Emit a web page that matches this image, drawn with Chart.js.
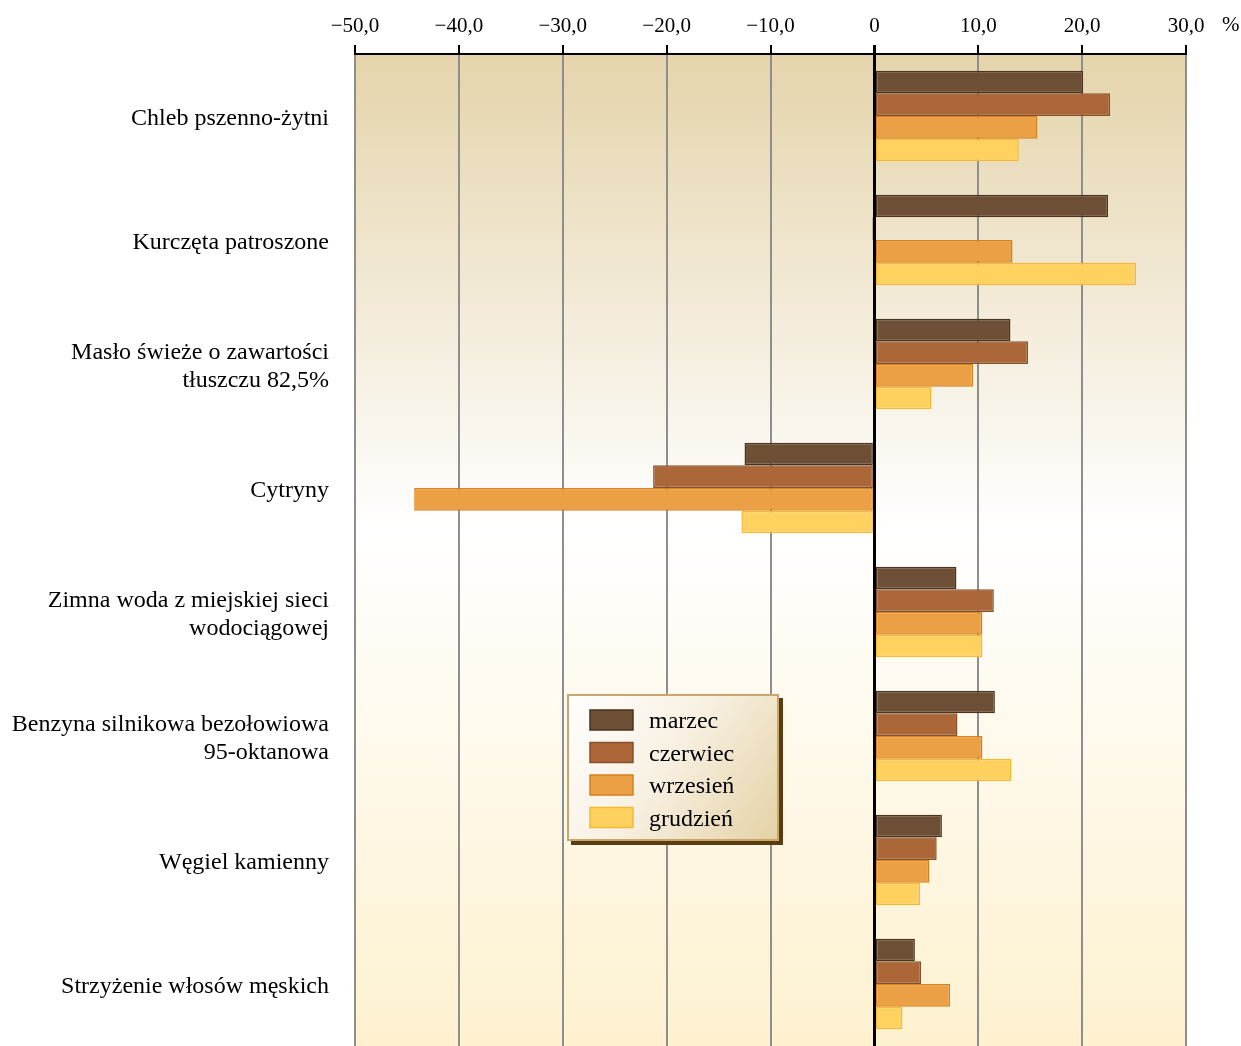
<!DOCTYPE html>
<html>
<head>
<meta charset="utf-8">
<script src="https://cdn.jsdelivr.net/npm/chart.js@4"></script>
<style>
  html, body { margin: 0; padding: 0; background: #ffffff; overflow: hidden; }
</style>
</head>
<body>
<canvas id="chart" width="1241" height="1046"></canvas>
<script>
// Categories (multi-line labels as arrays)
var categories = [
    "Chleb pszenno-żytni",
    "Kurczęta patroszone",
    ["Masło świeże o zawartości", "tłuszczu 82,5%"],
    "Cytryny",
    ["Zimna woda z miejskiej sieci", "wodociągowej"],
    ["Benzyna silnikowa bezołowiowa", "95-oktanowa"],
    "Węgiel kamienny",
    "Strzyżenie włosów męskich"
];

// Series values (%)
var marzec    = [20.1, 22.5, 13.1, -12.5,  7.9, 11.6, 6.5, 3.9];
var czerwiec  = [22.7, -0.2, 14.8, -21.3, 11.5,  8.0, 6.0, 4.5];
var wrzesien  = [15.7, 13.3,  9.5, -44.3, 10.4, 10.4, 5.3, 7.3];
var grudzien  = [13.9, 25.2,  5.5, -12.8, 10.4, 13.2, 4.4, 2.7];

var seriesNames = ["marzec", "czerwiec", "wrzesień", "grudzień"];

// Axis range
var xMin = -50, xMax = 30, xStep = 10;

var FONT = "'Liberation Serif', 'DejaVu Serif', serif";

// Background gradient inside the plot area
var backgroundPlugin = {
    id: "plotBackground",
    beforeDraw: function (chart) {
        var ctx = chart.ctx, a = chart.chartArea;
        var g = ctx.createLinearGradient(0, a.top, 0, a.bottom);
        g.addColorStop(0, "#e5d4ab");
        g.addColorStop(0.48, "#ffffff");
        g.addColorStop(1, "#fdf1cf");
        ctx.save();
        ctx.fillStyle = g;
        ctx.fillRect(a.left, a.top, a.right - a.left, a.bottom - a.top);
        ctx.restore();
    },
    afterDraw: function (chart) {
        // "%" unit next to top ticks
        var ctx = chart.ctx, a = chart.chartArea;
        ctx.save();
        ctx.font = "21px " + FONT;
        ctx.fillStyle = "#000";
        ctx.textAlign = "left";
        ctx.textBaseline = "middle";
        ctx.fillText("%", a.right + 36, 25);
        ctx.restore();
    }
};

// Legend box with gradient and shadow
var legendBoxPlugin = {
    id: "legendBox",
    afterDraw: function (chart) {
        var ctx = chart.ctx;
        var x = 567, y = 694, w = 212, h = 147;
        ctx.save();
        // shadow
        ctx.fillStyle = "#5b3b12";
        ctx.fillRect(x + 4, y + 4, w, h);
        var g = ctx.createLinearGradient(x, y, x + w, y + h);
        g.addColorStop(0, "#ffffff");
        g.addColorStop(0.45, "#f8f1e3");
        g.addColorStop(1, "#e4d1a5");
        ctx.fillStyle = g;
        ctx.fillRect(x, y, w, h);
        ctx.strokeStyle = "#c9a66c";
        ctx.lineWidth = 2;
        ctx.strokeRect(x + 1, y + 1, w - 2, h - 2);

        ctx.font = "24px " + FONT;
        ctx.textAlign = "left";
        ctx.textBaseline = "middle";
        chart.data.datasets.forEach(function (ds, i) {
            var cy = y + 26 + i * 32.5;
            ctx.fillStyle = ds.backgroundColor;
            ctx.fillRect(x + 23, cy - 10, 43, 20);
            ctx.strokeStyle = ds.borderColor;
            ctx.lineWidth = 1.5;
            ctx.strokeRect(x + 23, cy - 10, 43, 20);
            ctx.fillStyle = "#000";
            ctx.fillText(ds.label, x + 82, cy + 2);
        });
        ctx.restore();
    }
};

function fmtTick(v) {
    if (v === 0) return "0";
    var s = Math.abs(v).toFixed(1).replace(".", ",");
    return (v < 0 ? "\u2212" : "") + s;
}

var fills   = ["#6d4f35", "#ac6738", "#eba045", "#ffd15e"];
var borders = ["#4a3321", "#86502b", "#d7801c", "#f7b834"];
var values  = [marzec, czerwiec, wrzesien, grudzien];

var datasets = values.map(function (d, i) {
    return {
        label: seriesNames[i],
        data: d,
        backgroundColor: fills[i],
        borderColor: borders[i],
        borderWidth: 1.5,
        borderSkipped: false,
        barPercentage: 1.0,
        categoryPercentage: 0.73
    };
});

new Chart(document.getElementById("chart"), {
    type: "bar",
    data: { labels: categories, datasets: datasets },
    options: {
        indexAxis: "y",
        responsive: false,
        animation: false,
        layout: { autoPadding: false, padding: { top: 0, right: 55, bottom: -4, left: 0 } },
        plugins: {
            legend: { display: false },
            tooltip: { enabled: false }
        },
        scales: {
            x: {
                position: "top",
                min: xMin,
                max: xMax,
                ticks: {
                    stepSize: xStep,
                    color: "#000",
                    padding: 6,
                    font: { family: FONT, size: 21 },
                    callback: function (v) { return fmtTick(v); }
                },
                grid: {
                    drawTicks: true,
                    tickLength: 9,
                    tickColor: "#000",
                    color: function (c) { return c.tick && c.tick.value === 0 ? "#000" : "#8e8e8e"; },
                    lineWidth: function (c) { return c.tick && c.tick.value === 0 ? 3 : 2; },
                    tickWidth: function (c) { return c.tick && c.tick.value === 0 ? 3 : 2; }
                },
                border: { display: true, color: "#000", width: 2 },
                afterFit: function (scale) { scale.height = 54; }
            },
            y: {
                ticks: {
                    color: "#000",
                    padding: 18,
                    labelOffset: 3,
                    font: { family: FONT, size: 24, lineHeight: 1.17 }
                },
                grid: { display: false },
                border: { display: false },
                afterFit: function (scale) {
                    scale.width = 355;
                    scale.paddingTop = 0;
                    scale.paddingBottom = 0;
                }
            }
        }
    },
    plugins: [backgroundPlugin, legendBoxPlugin]
});
</script>
</body>
</html>
